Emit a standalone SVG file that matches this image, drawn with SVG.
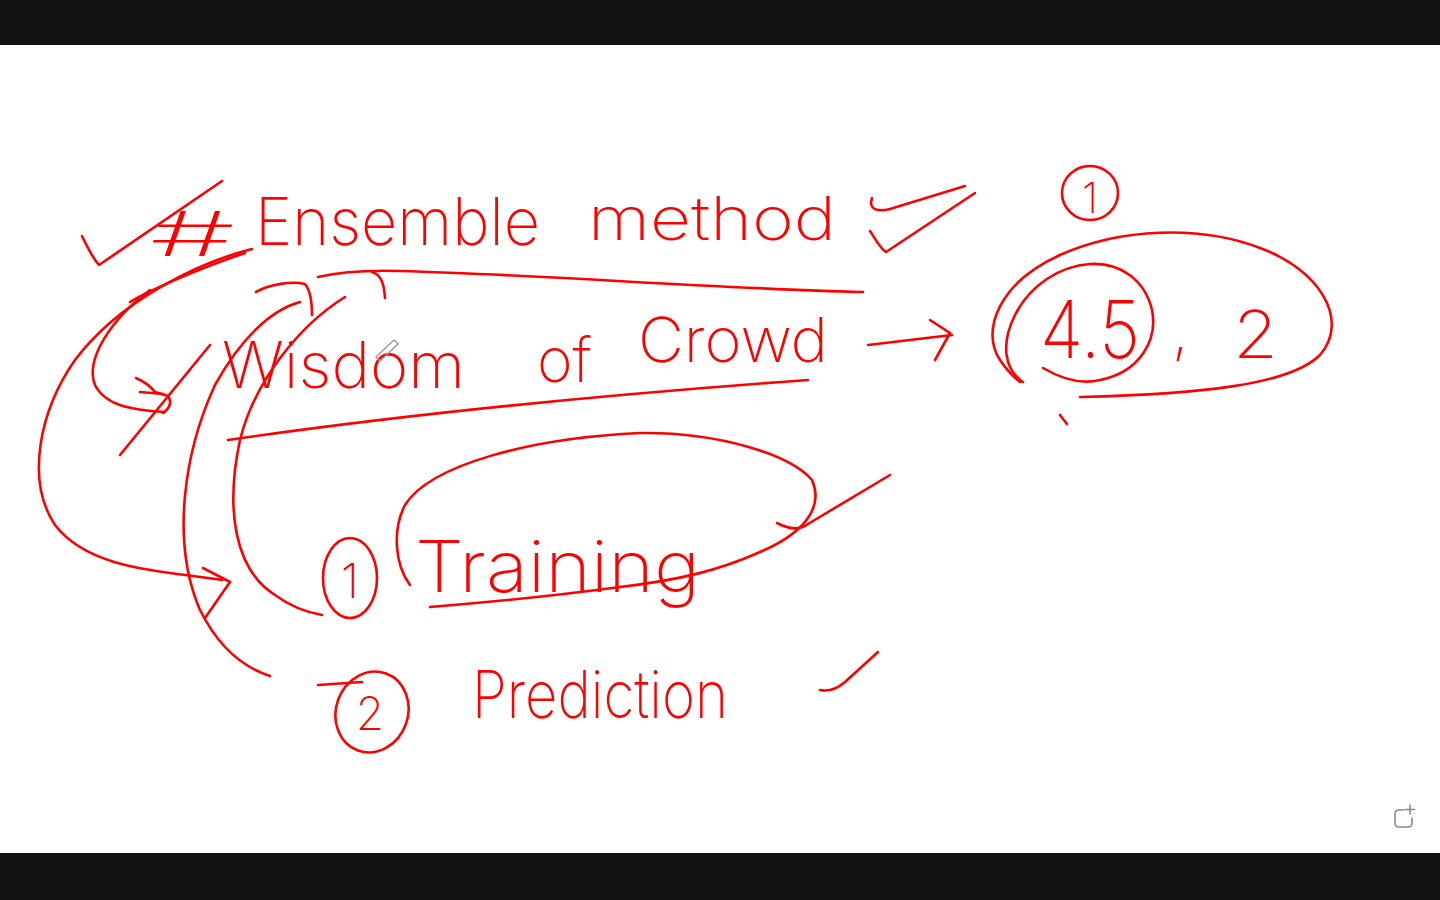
<svg xmlns="http://www.w3.org/2000/svg" width="1440" height="900" viewBox="0 0 1440 900">
<style>
.ink{fill:none;stroke:#ff0000;stroke-width:2.6;stroke-linecap:round;stroke-linejoin:round}
.hw{fill:#ff0000;font-family:Inter,"Liberation Sans",sans-serif;font-weight:200}
.ui{fill:none;stroke:#8a8a8a;stroke-width:1.6;stroke-linecap:round;stroke-linejoin:round}
</style>
<rect x="0" y="0" width="1440" height="900" fill="#ffffff"/>
<rect x="0" y="0" width="1440" height="45" fill="#121212"/>
<rect x="0" y="853" width="1440" height="47" fill="#121212"/>

<g id="title">
  <path class="ink" d="M82,236 Q92,257 99,265 L222,181"/>
  <text class="hw" x="150" y="256" font-size="62" textLength="85" lengthAdjust="spacingAndGlyphs">#</text>
  <text class="hw" x="255" y="245" font-size="66" textLength="285" lengthAdjust="spacingAndGlyphs">Ensemble</text>
  <text class="hw" x="588" y="240" font-size="60" textLength="248" lengthAdjust="spacingAndGlyphs">method</text>
  <path class="ink" d="M872,198 C868,210 878,212 890,209 L965,186"/>
  <path class="ink" d="M870,231 C876,240 880,248 886,252 L975,193"/>
</g>

<g id="wisdom">
  <text class="hw" x="222" y="388" font-size="64" textLength="243" lengthAdjust="spacingAndGlyphs">Wisdom</text>
  <text class="hw" x="537" y="382" font-size="62" textLength="55" lengthAdjust="spacingAndGlyphs">of</text>
  <text class="hw" x="638" y="362" font-size="62" textLength="190" lengthAdjust="spacingAndGlyphs">Crowd</text>
  <path class="ink" d="M318,277 C340,272 370,270 400,271 C550,275 700,288 863,292"/>
  <path class="ink" d="M372,272 C382,275 384,285 385,298"/>
  <path class="ink" d="M256,292 C270,284 292,281 305,284 C310,290 312,300 312,315"/>
  <path class="ink" d="M228,440 C400,415 600,395 808,380"/>
  <path d="M376,357 L394,340 L398,344 L380,361 Z" fill="none" stroke="#9a9a9a" stroke-width="1.5"/>
</g>

<g id="result">
  <ellipse class="ink" cx="1090" cy="193" rx="28" ry="27"/>
  <text class="hw" x="1090" y="213" font-size="42" text-anchor="middle">1</text>
  <path class="ink" d="M1080,397 C1200,394 1290,385 1320,355 C1350,320 1320,270 1260,248 C1200,225 1120,228 1060,255 C1000,282 980,330 1000,360 C1008,372 1015,378 1020,382"/>
  <path class="ink" d="M1043,368 C1060,378 1080,385 1100,380 C1140,372 1158,340 1152,310 C1145,280 1120,262 1090,264 C1060,266 1030,285 1015,315 C1000,345 1005,370 1023,382"/>
  <text class="hw" x="1040" y="358" font-size="80" textLength="100" lengthAdjust="spacingAndGlyphs">4.5</text>
  <text class="hw" x="1172" y="352" font-size="60">,</text>
  <text class="hw" x="1233" y="358" font-size="66" textLength="45" lengthAdjust="spacingAndGlyphs">2</text>
  <path class="ink" d="M1060,415 L1067,424"/>
</g>

<g id="training">
  <ellipse class="ink" cx="350" cy="578" rx="27" ry="40"/>
  <text class="hw" x="350" y="598" font-size="48" text-anchor="middle">1</text>
  <path class="ink" d="M410,585 C395,565 392,530 405,505 C430,465 530,438 640,433 C720,432 790,455 812,480 C825,510 800,535 760,552 C720,570 680,580 620,587 C560,595 480,603 430,607"/>
  <text class="hw" x="415" y="592" font-size="72" textLength="285" lengthAdjust="spacingAndGlyphs">Training</text>
  <path class="ink" d="M777,523 C790,530 800,530 808,524 L890,475"/>
</g>

<g id="prediction">
  <ellipse class="ink" cx="372" cy="712" rx="36" ry="41" transform="rotate(20 372 712)"/>
  <path class="ink" d="M318,685 L362,682"/>
  <text class="hw" x="370" y="730" font-size="46" text-anchor="middle">2</text>
  <text class="hw" x="472" y="718" font-size="66" textLength="256" lengthAdjust="spacingAndGlyphs">Prediction</text>
  <path class="ink" d="M820,690 C830,692 838,688 845,682 L878,652"/>
</g>

<g id="connectors">
  <path class="ink" d="M252,249 C200,262 120,300 75,360 C40,410 25,480 55,525 C90,570 160,570 222,580"/>
  <path class="ink" d="M203,568 L230,582 L205,618"/>
  <path class="ink" d="M245,253 C200,268 150,290 130,302"/>
  <path class="ink" d="M150,290 C110,320 85,360 95,385 C105,405 130,410 165,412"/>
  <path class="ink" d="M136,378 C145,382 152,388 155,392 L168,396 C172,402 170,408 163,413"/>
  <path class="ink" d="M140,392 L163,394"/>
  <path class="ink" d="M210,345 L120,455"/>
  <path class="ink" d="M300,302 C270,310 240,340 215,385 C185,450 170,540 200,610 C220,650 245,668 270,676"/>
  <path class="ink" d="M345,297 C300,325 255,380 240,440 C225,510 235,570 275,595 C290,606 305,612 322,615"/>
  <path class="ink" d="M868,345 L952,335"/>
  <path class="ink" d="M930,320 L950,333 L935,360"/>
</g>

<g id="ui-icon">
  <path class="ui" d="M1404,810 L1399,810 Q1395,810 1395,814 L1395,823 Q1395,827 1399,827 L1408,827 Q1412,827 1412,823 L1412,818"/>
  <path class="ui" d="M1410,805 L1410,814 M1405.5,809.5 L1414.5,809.5"/>
</g>
</svg>
